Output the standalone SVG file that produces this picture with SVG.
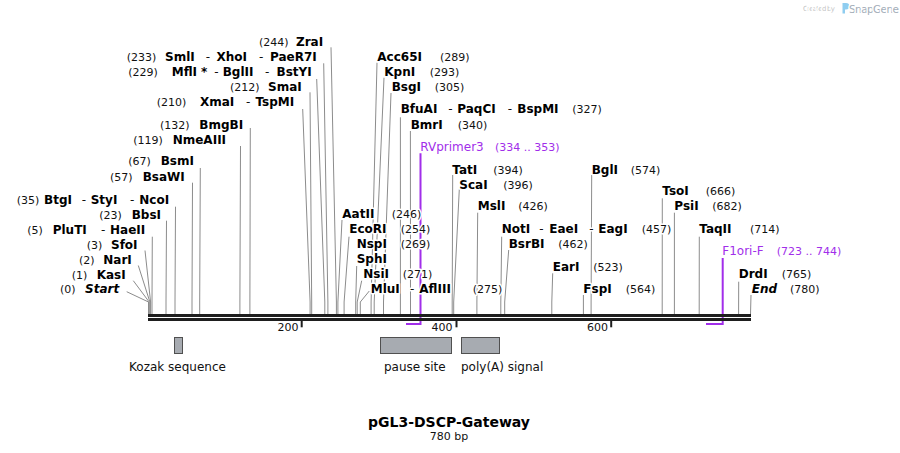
<svg xmlns="http://www.w3.org/2000/svg" width="900" height="453" viewBox="0 0 900 453">
<style>
text{font-family:"DejaVu Sans",Verdana,sans-serif;stroke:#fff;stroke-width:3px;paint-order:stroke fill;stroke-linejoin:round}
.b{font-size:12px;font-weight:bold;fill:#000}
.bi{font-size:12px;font-weight:bold;font-style:italic;fill:#000}
.n{font-size:11px;fill:#111}
.d{font-size:12px;fill:#111}
.p{font-size:12px;fill:#a12eea}
.pn{font-size:11px;fill:#a12eea}
.f{font-size:12px;fill:#111;stroke:none}
.t{font-size:11px;fill:#111;stroke:none}
.ln{fill:none;stroke:#8c8c8c;stroke-width:1}
.pl{fill:none;stroke:#a12eea;stroke-width:2}
.bar{fill:#1e1e1e}
.feat{fill:#a7abb1;stroke:#505050;stroke-width:1}
</style>
<rect width="900" height="453" fill="#fff"/>

<g id="watermark">
<text x="803" y="11" font-size="7" fill="#c4c4c4" stroke="none" textLength="32">Created by</text>
<path d="M842.5,3 h3.5 a3.3,3.3 0 0 1 0,6.6 h-1 v4 h-2.5 z" fill="#8fcdf0"/>
<text x="849" y="12.5" font-size="10.5" fill="#a3adb8" stroke="none" textLength="50">SnapGene</text>
</g>

<g id="connectors">
<polyline class="ln" points="126.7,291.7 148.5,302 148.5,314"/>
<polyline class="ln" points="133.3,280.7 149.2,302 149.2,314"/>
<polyline class="ln" points="138.3,265.5 149.9,302 149.9,314"/>
<polyline class="ln" points="145,250.5 150.6,302 150.6,314"/>
<polyline class="ln" points="152.3,236.7 152,302 152,314"/>
<polyline class="ln" points="166.5,220.7 166,302 166,314"/>
<polyline class="ln" points="175.5,206.7 175,302 175,314"/>
<polyline class="ln" points="192.5,182.7 192,302 192,314"/>
<polyline class="ln" points="200.3,168 199.7,302 199.7,314"/>
<polyline class="ln" points="240.5,146 239.9,302 239.9,314"/>
<polyline class="ln" points="250.3,128 249.9,302 249.9,314"/>
<polyline class="ln" points="302.7,109 310.1,302 310.1,314"/>
<polyline class="ln" points="310,92.3 311.7,302 311.7,314"/>
<polyline class="ln" points="316.7,79 324.8,302 324.8,314"/>
<polyline class="ln" points="323.7,63.3 327.9,302 327.9,314"/>
<polyline class="ln" points="331,47.3 336.4,302 336.4,314"/>
<polyline class="ln" points="342,220 337.9,302 337.9,314"/>
<polyline class="ln" points="349,236.7 344.1,302 344.1,314"/>
<polyline class="ln" points="356.7,266 355.7,302 355.7,314"/>
<polyline class="ln" points="361.7,280.7 357.2,302 357.2,314"/>
<polyline class="ln" points="369.3,291 360.3,302 360.3,314"/>
<polyline class="ln" points="377,62.7 371.1,302 371.1,314"/>
<polyline class="ln" points="384,77.7 374.2,302 374.2,314"/>
<polyline class="ln" points="391,93 383.5,302 383.5,314"/>
<polyline class="ln" points="400.4,117.3 400.4,314"/>
<polyline class="ln" points="410.4,131 410.5,314"/>
<polyline class="ln" points="452.7,175 452.2,302 452.2,314"/>
<polyline class="ln" points="459.3,189.3 453.7,302 453.7,314"/>
<polyline class="ln" points="477.7,212.7 476.9,302 476.9,314"/>
<polyline class="ln" points="501.7,236.7 500.8,302 500.8,314"/>
<polyline class="ln" points="508.7,250 504.7,302 504.7,314"/>
<polyline class="ln" points="552.7,273.3 551.8,302 551.8,314"/>
<polyline class="ln" points="583.4,295 583.4,314"/>
<polyline class="ln" points="591.7,175 591.1,302 591.1,314"/>
<polyline class="ln" points="662.3,198.3 662.2,314"/>
<polyline class="ln" points="674.4,212.7 674.4,314"/>
<polyline class="ln" points="699.3,236.7 699.2,314"/>
<polyline class="ln" points="738.7,281.7 738.6,314"/>
<polyline class="ln" points="751,295 750.5,314"/>
<polyline class="pl" points="420.5,153.3 420.5,324 406,324"/>
<polyline class="pl" points="722.7,258 722.7,324 706,324"/>
</g>

<g id="backbone">
<rect class="bar" x="148" y="314" width="603" height="3"/>
<rect class="bar" x="148" y="318" width="603" height="3"/>
<rect class="bar" x="300.7" y="321" width="2" height="6.3"/>
<rect class="bar" x="455.5" y="321" width="2" height="6.3"/>
<rect class="bar" x="610.2" y="321" width="2" height="6.3"/>
<text class="t" x="298.5" y="331" text-anchor="end">200</text>
<text class="t" x="452.5" y="331" text-anchor="end">400</text>
<text class="t" x="608" y="331" text-anchor="end">600</text>
</g>

<g id="ZraI"><text class="n" x="259" y="46">(244)</text><text class="b" x="296" y="46">ZraI</text></g>
<g id="SmlI"><text class="n" x="126.7" y="60.7">(233)</text><text class="b" x="165" y="60.7">SmlI</text><text class="d" x="205.7" y="60.7">-</text><text class="b" x="216.5" y="60.7">XhoI</text><text class="d" x="259" y="60.7">-</text><text class="b" x="270" y="60.7">PaeR7I</text></g>
<g id="MflI"><text class="n" x="128.3" y="75.7">(229)</text><text class="b" x="171.7" y="75.7">MflI</text><text class="b" x="201" y="75.7">*</text><text class="d" x="214.3" y="75.7">-</text><text class="b" x="222.7" y="75.7">BglII</text><text class="d" x="265" y="75.7">-</text><text class="b" x="276.5" y="75.7">BstYI</text></g>
<g id="SmaI"><text class="n" x="230" y="91">(212)</text><text class="b" x="268" y="91">SmaI</text></g>
<g id="XmaI"><text class="n" x="156.7" y="106">(210)</text><text class="b" x="200" y="106">XmaI</text><text class="d" x="246" y="106">-</text><text class="b" x="255.5" y="106">TspMI</text></g>
<g id="BmgBI"><text class="n" x="160" y="129.3">(132)</text><text class="b" x="199.3" y="129.3">BmgBI</text></g>
<g id="NmeAIII"><text class="n" x="133.3" y="144.3">(119)</text><text class="b" x="172.7" y="144.3">NmeAIII</text></g>
<g id="BsmI"><text class="n" x="128.3" y="165">(67)</text><text class="b" x="160.7" y="165">BsmI</text></g>
<g id="BsaWI"><text class="n" x="110" y="180.7">(57)</text><text class="b" x="142.7" y="180.7">BsaWI</text></g>
<g id="BtgI"><text class="n" x="16.7" y="204">(35)</text><text class="b" x="44" y="204">BtgI</text><text class="d" x="81.7" y="204">-</text><text class="b" x="90.7" y="204">StyI</text><text class="d" x="130" y="204">-</text><text class="b" x="139.3" y="204">NcoI</text></g>
<g id="BbsI"><text class="n" x="99.3" y="219">(23)</text><text class="b" x="131.7" y="219">BbsI</text></g>
<g id="PluTI"><text class="n" x="27.3" y="234">(5)</text><text class="b" x="52.7" y="234">PluTI</text><text class="d" x="101" y="234">-</text><text class="b" x="110" y="234">HaeII</text></g>
<g id="SfoI"><text class="n" x="86.7" y="249">(3)</text><text class="b" x="111" y="249">SfoI</text></g>
<g id="NarI"><text class="n" x="79" y="264">(2)</text><text class="b" x="103.3" y="264">NarI</text></g>
<g id="KasI"><text class="n" x="71.7" y="279">(1)</text><text class="b" x="96.7" y="279">KasI</text></g>
<g id="Start"><text class="n" x="60" y="293.3">(0)</text><text class="bi" x="85" y="293.3">Start</text></g>

<g id="Acc65I"><text class="b" x="377.3" y="60.7">Acc65I</text><text class="n" x="440" y="60.7">(289)</text></g>
<g id="KpnI"><text class="b" x="384.3" y="75.7">KpnI</text><text class="n" x="429.7" y="75.7">(293)</text></g>
<g id="BsgI"><text class="b" x="391.7" y="91">BsgI</text><text class="n" x="434.7" y="91">(305)</text></g>
<g id="BfuAI"><text class="b" x="400.7" y="113.3">BfuAI</text><text class="d" x="448.3" y="113.3">-</text><text class="b" x="457.3" y="113.3">PaqCI</text><text class="d" x="507.7" y="113.3">-</text><text class="b" x="517.3" y="113.3">BspMI</text><text class="n" x="572.3" y="113.3">(327)</text></g>
<g id="BmrI"><text class="b" x="410.7" y="128.7">BmrI</text><text class="n" x="457.7" y="128.7">(340)</text></g>
<g id="RVprimer3"><text class="p" x="420.3" y="150.7">RVprimer3</text><text class="pn" x="495" y="150.7">(334 .. 353)</text></g>
<g id="TatI"><text class="b" x="452.3" y="174">TatI</text><text class="n" x="493.3" y="174">(394)</text></g>
<g id="ScaI"><text class="b" x="459.3" y="188.5">ScaI</text><text class="n" x="503.3" y="188.5">(396)</text></g>
<g id="MslI"><text class="b" x="477.7" y="210">MslI</text><text class="n" x="518.3" y="210">(426)</text></g>
<g id="NotI"><text class="b" x="501.7" y="233.3">NotI</text><text class="d" x="539.3" y="233.3">-</text><text class="b" x="549.3" y="233.3">EaeI</text><text class="d" x="589.3" y="233.3">-</text><text class="b" x="598.3" y="233.3">EagI</text><text class="n" x="641.7" y="233.3">(457)</text></g>
<g id="BsrBI"><text class="b" x="508.7" y="248.3">BsrBI</text><text class="n" x="558.3" y="248.3">(462)</text></g>
<g id="EarI"><text class="b" x="552.7" y="270.7">EarI</text><text class="n" x="593.3" y="270.7">(523)</text></g>
<g id="FspI"><text class="b" x="583.3" y="293.3">FspI</text><text class="n" x="625.7" y="293.3">(564)</text></g>
<g id="BglI"><text class="b" x="591.7" y="174">BglI</text><text class="n" x="630.7" y="174">(574)</text></g>
<g id="TsoI"><text class="b" x="662.3" y="195">TsoI</text><text class="n" x="705.7" y="195">(666)</text></g>
<g id="PsiI"><text class="b" x="674.3" y="210">PsiI</text><text class="n" x="712.3" y="210">(682)</text></g>
<g id="TaqII"><text class="b" x="699.3" y="233.3">TaqII</text><text class="n" x="750" y="233.3">(714)</text></g>
<g id="F1ori-F"><text class="p" x="722.3" y="255">F1ori-F</text><text class="pn" x="776.7" y="255">(723 .. 744)</text></g>
<g id="DrdI"><text class="b" x="738.7" y="278.3">DrdI</text><text class="n" x="781.7" y="278.3">(765)</text></g>
<g id="End"><text class="bi" x="751.7" y="293.3">End</text><text class="n" x="790" y="293.3">(780)</text></g>
<g id="AatII"><text class="b" x="342.3" y="217.7">AatII</text><text class="n" x="391.7" y="217.7">(246)</text></g>
<g id="EcoRI"><text class="b" x="349.3" y="233.3">EcoRI</text><text class="n" x="400.7" y="233.3">(254)</text></g>
<g id="NspI"><text class="b" x="356.7" y="248.3">NspI</text><text class="n" x="400.7" y="248.3">(269)</text></g>
<g id="SphI"><text class="b" x="356.7" y="263.3">SphI</text></g>
<g id="NsiI"><text class="b" x="363.3" y="278.3">NsiI</text><text class="n" x="402.7" y="278.3">(271)</text></g>
<g id="MluI"><text class="b" x="370.7" y="293.3">MluI</text><text class="d" x="410" y="293.3">-</text><text class="b" x="419.3" y="293.3">AflIII</text><text class="n" x="472.7" y="293.3">(275)</text></g>

<g id="kozak"><rect class="feat" x="174.5" y="337.5" width="8" height="16"/><text class="f" x="177.5" y="371" text-anchor="middle">Kozak sequence</text></g>
<g id="pause-site"><rect class="feat" x="380.5" y="337.5" width="71" height="16"/><text class="f" x="384" y="371">pause site</text></g>
<g id="polyA"><rect class="feat" x="461.5" y="337.5" width="38" height="16"/><text class="f" x="461" y="371">poly(A) signal</text></g>

<g id="title">
<text x="449" y="427" text-anchor="middle" font-size="14" font-weight="bold" fill="#000" stroke="none">pGL3-DSCP-Gateway</text>
<text x="449" y="440" text-anchor="middle" font-size="11" fill="#111" stroke="none">780 bp</text>
</g>
</svg>
